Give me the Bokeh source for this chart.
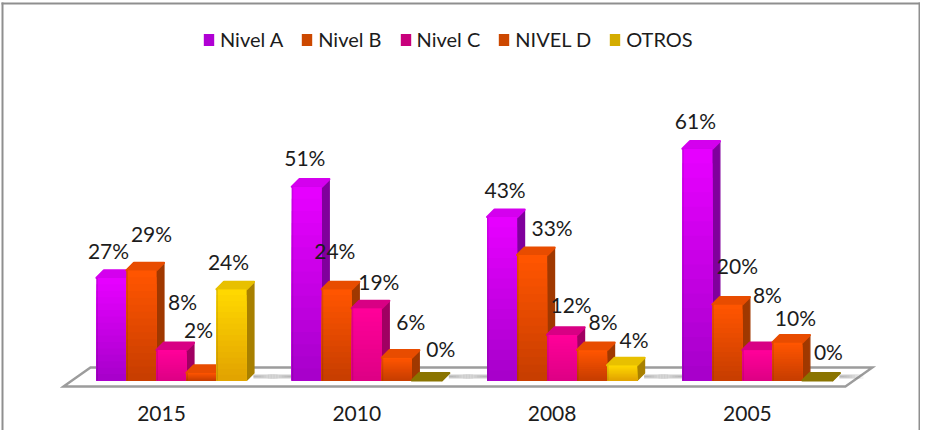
from bokeh.plotting import figure
from bokeh.models import (ColumnDataSource, Range1d, LinearAxis, FixedTicker, Legend, LegendItem)
from bokeh.core.properties import value
from bokeh.embed import file_html
from bokeh.resources import INLINE

years = ["2015", "2010", "2008", "2005"]
series_names = ["Nivel A", "Nivel B", "Nivel C", "NIVEL D", "OTROS"]
nivel_a = [27, 51, 43, 61]
nivel_b = [29, 24, 33, 20]
nivel_c = [8, 19, 12, 8]
nivel_d = [2, 6, 8, 10]
otros = [24, 0, 4, 0]
all_series = [nivel_a, nivel_b, nivel_c, nivel_d, otros]

label_dx = [[-3, -2, 3, -2], [10, -2, 20, 10], [11, 12, 9, 10], [-3, 14, 11, 8], [-3, 14, 12, 11]]
label_dy = [[27, 29, 28, 28], [37, 39, 28, 39], [49, 27, 30, 56], [43, 36, 29, 25], [28, 32, 26, 29]]

PAL = [("#e600ff", "#a400c8", "#80009c", "#d400ee", "#b000d4"),
       ("#ff5500", "#c43c00", "#a03800", "#e84c00", "#cc4800"),
       ("#ff0099", "#dc0084", "#a00062", "#d80084", "#c8007c"),
       ("#ff5500", "#c43c00", "#a03800", "#e84c00", "#cc4800"),
       ("#ffd800", "#e0a000", "#a88000", "#e8c000", "#d4ac00")]
ZERO_TOP = "#8a7400"
TXT = "#1c1c1c"
FONT = "Lato"

W, H = 920, 430
GROUP_PX = 195.3
PX_PER_PCT = 3.8
X0_PX, Y0_PX = 161, 380      # first tick and value 0, in canvas pixels
sx = 1 / GROUP_PX
sy = 1 / PX_PER_PCT
BAR = 30 * sx
SHIFT = 10 * sx              # the bars stand right of their tick, as in the reference
DX, DY = 7.5 * sx, 7.5 * sy
x_start, x_end = -X0_PX * sx, (W - X0_PX) * sx
y_end, y_start = Y0_PX * sy, (Y0_PX - H) * sy

p = figure(width=W, height=H, output_backend="svg", toolbar_location=None,
           x_range=Range1d(x_start, x_end), y_range=Range1d(y_start, y_end),
           x_axis_location=None, y_axis_location=None, min_border=0,
           border_fill_color="white", background_fill_color="white")
p.grid.visible = False
p.outline_line_color = None

BORDER = "#8f8f8f"
p.quad(left=x_start + 1 * sx, right=x_end, top=y_end - 2 * sy, bottom=y_end - 4 * sy, color=BORDER, line_width=0)
p.quad(left=x_start + 1 * sx, right=x_start + 3 * sx, top=y_end - 2 * sy, bottom=y_start, color=BORDER, line_width=0)
p.quad(left=x_end - 2 * sx, right=x_end, top=y_end - 2 * sy, bottom=y_start, color=BORDER, line_width=0)

f_l = SHIFT - 2.5 * BAR - 33 * sx
f_r = 3 + SHIFT + 2.5 * BAR + 13 * sx
f_back, f_front = 13 * sy, -6 * sy
p.patch([f_l, f_l + 27 * sx, f_r + 27 * sx, f_r], [f_front, f_back, f_back, f_front],
        fill_color="white", line_color="#9c9c9c", line_width=2.4, line_join="miter")

for g in range(4):
    for side, anchor in ((1, g + SHIFT + 2.5 * BAR + 7 * sx), (-1, g + SHIFT - 2.5 * BAR)):
        if g == 0 and side < 0:
            continue
        for k in range(8):
            b = anchor + side * (24 - 2.8 * k) * sx
            p.quad(left=min(anchor, b), right=max(anchor, b), top=(6.5 - 0.3 * k) * sy, bottom=(1.5 + 0.3 * k) * sy,
                   fill_color="#606060", fill_alpha=0.07, line_width=0)

N = 16
def mix(c1, c2, t):
    a = [int(c1[i:i + 2], 16) for i in (1, 3, 5)]
    b = [int(c2[i:i + 2], 16) for i in (1, 3, 5)]
    return "#%02x%02x%02x" % tuple(round(u + (v - u) * t) for u, v in zip(a, b))

legend_items = []
lab_x, lab_y, lab_t, lab_dx, lab_dy = [], [], [], [], []
for s, vals in enumerate(all_series):
    top_c, bot_c, side_c, face_c, leg_c = PAL[s]
    lefts = [g + SHIFT + (s - 2.5) * BAR for g in range(len(years))]
    rights = [l + BAR for l in lefts]
    p.patches([[r, r + DX, r + DX, r] for r in rights],
              [[0, DY, v + DY, v] for v in vals],
              fill_color=side_c, line_color=side_c, line_width=1.2, line_join="round")
    face_cols = [face_c if v > 0 else (ZERO_TOP if s == 4 else face_c) for v in vals]
    p.patches([[l, l + DX, r + DX, r] for l, r in zip(lefts, rights)],
              [[v, v + DY, v + DY, v] for v in vals],
              fill_color=face_cols, line_color=face_cols, line_width=2.2, line_join="round")
    base = p.quad(left=lefts, right=rights, top=vals, bottom=[0] * len(vals),
                  fill_color=leg_c, line_width=0)
    legend_items.append(LegendItem(label=series_names[s], renderers=[base]))
    for k in range(N):
        t = k / N
        p.quad(left=lefts, right=rights, top=[v * (1 - t) for v in vals], bottom=[0] * len(vals),
               fill_color=mix(top_c, bot_c, t), line_width=0)
    p.quad(left=lefts, right=[l + 1.5 * sx for l in lefts], top=vals, bottom=[0] * len(vals),
           fill_color="#000000", fill_alpha=0.10, line_width=0)
    for g, v in enumerate(vals):
        lab_x.append(lefts[g] + BAR / 2)
        lab_y.append(v)
        lab_t.append(f"{v}%")
        lab_dx.append(label_dx[s][g])
        lab_dy.append(-label_dy[s][g])

src = ColumnDataSource(dict(x=lab_x, y=lab_y, t=lab_t, dx=lab_dx, dy=lab_dy))
p.text(x="x", y="y", text="t", source=src, x_offset="dx", y_offset="dy",
       text_font=value(FONT), text_font_size="21px", text_color=TXT,
       text_align="center", text_baseline="middle")

axis = LinearAxis(ticker=FixedTicker(ticks=list(range(len(years)))),
                  major_label_overrides={i: y for i, y in enumerate(years)},
                  fixed_location=-12 * sy, axis_line_color=None,
                  major_tick_line_color=None, minor_tick_line_color=None,
                  major_label_standoff=7, major_label_text_font=FONT,
                  major_label_text_font_size="21px", major_label_text_color=TXT)
p.add_layout(axis, "below")

legend = Legend(items=legend_items, orientation="horizontal", location=(202, 379),
                glyph_width=13, glyph_height=15, label_standoff=5, spacing=17,
                padding=0, margin=0, border_line_color=None, background_fill_alpha=0,
                label_text_font=FONT, label_text_font_size="20px", label_text_color=TXT,
                label_height=18)
p.add_layout(legend, "center")

open("out.html", "w").write(file_html(p, INLINE))
